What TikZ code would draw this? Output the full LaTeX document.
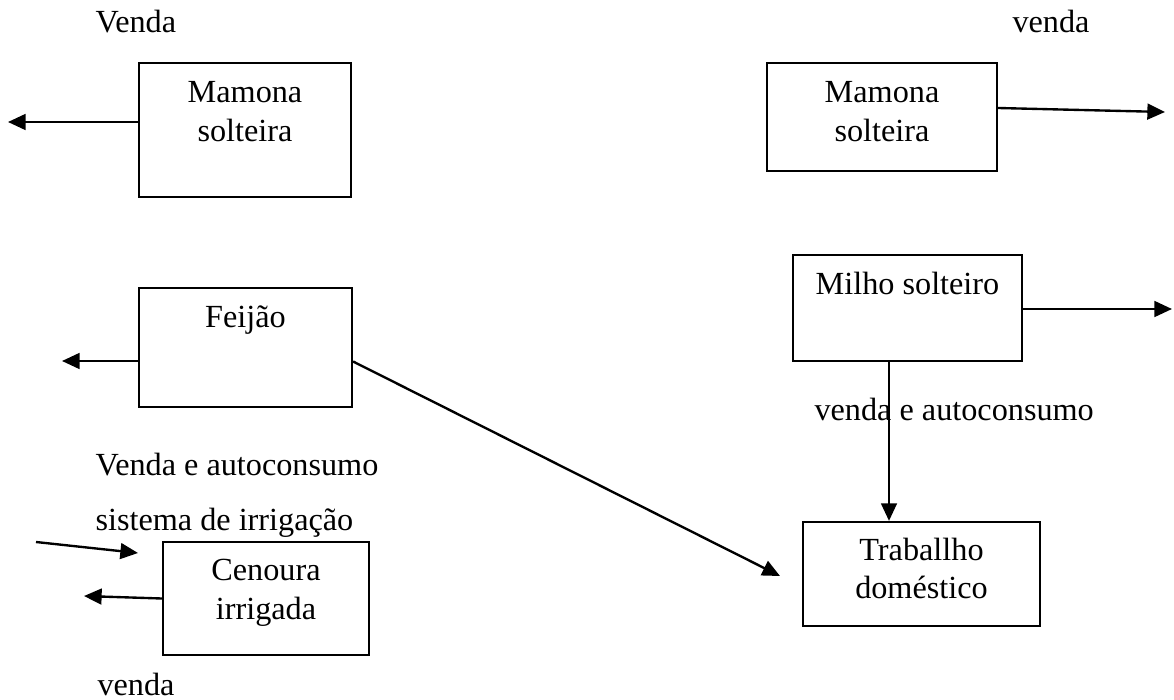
\documentclass[tikz,border=0pt]{standalone}
\usepackage{fontspec}
\setmainfont{Liberation Serif}
\usepackage{tikz}
\usetikzlibrary{arrows.meta, positioning, calc}
\newlength\pxu
\setlength\pxu{0.38pt}

\begin{document}
\begin{tikzpicture}[
      x=\pxu, y=-\pxu,
      box/.style={draw, line width=0.85pt, inner sep=0pt},
      txt/.style={font=\fontsize{12.25}{14.6}\selectfont, align=center, inner sep=0pt},
      lab/.style={font=\fontsize{12.25}{14.6}\selectfont, inner sep=0pt, anchor=base west},
      arr/.style={-{Triangle[length=6.7pt, width=6pt]}, line width=0.9pt}
    ]
    \useasboundingbox (0,0) rectangle (1174,700);
    \node[box, minimum width=212*\pxu, minimum height=134*\pxu] (m1) at (245,130) {};
    \node[box, minimum width=230*\pxu, minimum height=108*\pxu] (m2) at (882,117) {};
    \node[box, minimum width=213*\pxu, minimum height=119*\pxu] (fei) at (245.5,347.5) {};
    \node[box, minimum width=229*\pxu, minimum height=106*\pxu] (mil) at (907.5,308) {};
    \node[box, minimum width=237*\pxu, minimum height=104*\pxu] (trab) at (921.5,574) {};
    \node[box, minimum width=206*\pxu, minimum height=113*\pxu] (cen) at (266,598.5) {};
    \node[txt, below=7.3pt of m1.north] (m1t) {Mamona\\solteira};
    \node[txt, below=7.3pt of m2.north] (m2t) {Mamona\\solteira};
    \node[txt, below=7.1pt of fei.north] (feit) {Feijão};
    \node[txt, below=6.8pt of mil.north] (milt) {Milho solteiro};
    \node[txt, below=6.3pt of trab.north] (trabt) {Traballho\\doméstico};
    \node[txt, below=6.9pt of cen.north] (cent) {Cenoura\\irrigada};
    \node[lab] (vtop) at (95,33) {Venda};
    \node[lab] (vtopr) at (1012,33) {venda};
    \node[lab] (vmil) at (814,420) {venda e autoconsumo};
    \node[lab] (vfei) at (95,475) {Venda e autoconsumo};
    \node[lab] (irr) at (95,530) {sistema de irrigação};
    \node[lab] (vcen) at (97,695) {venda};
    \coordinate (v1) at (8,122);
    \coordinate (v2) at (1165,112);
    \coordinate (v3) at (62,361);
    \coordinate (v4) at (1172,309);
    \coordinate (v5) at (84,596);
    \coordinate (v6) at (889,0);
    \coordinate (t1) at (780,576);
    \coordinate (s1) at (36,542);
    \coordinate (s2) at (138,553);
    \draw[arr] (m1.west |- v1) -- (v1);
    \draw[arr] ($(m2.east)+(0,-9)$) -- (v2);
    \draw[arr] (fei.west |- v3) -- (v3);
    \draw[arr] ($(fei.east)+(0,14)$) -- (t1);
    \draw[arr] (mil.east |- v4) -- (v4);
    \draw[arr] (mil.south -| v6) -- (trab.north -| v6);
    \draw[arr] (s1) -- (s2);
    \draw[arr] (cen.west) -- (v5);
  \end{tikzpicture}
\end{document}
